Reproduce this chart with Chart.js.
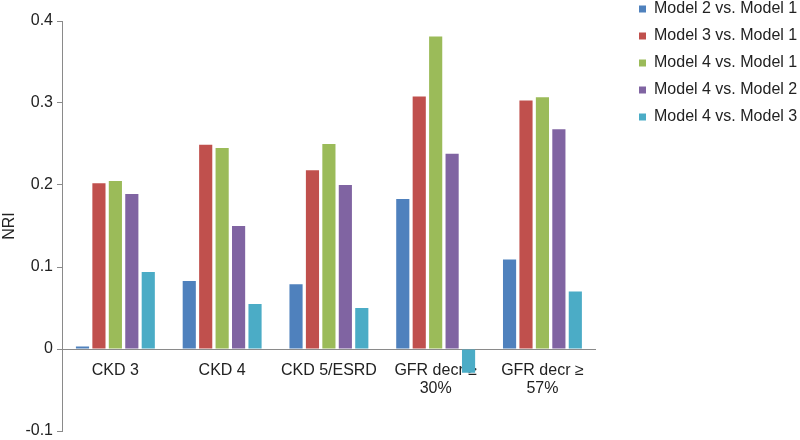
<!DOCTYPE html>
<html>
<head>
<meta charset="utf-8">
<script src="https://cdn.jsdelivr.net/npm/chart.js@4/dist/chart.umd.min.js"></script>
<style>
  body { margin: 0; background: #fff; }
  #wrap { width: 800px; height: 440px; }
</style>
</head>
<body>
<div id="wrap"><canvas id="chart"></canvas></div>
<script>
const categories = ['CKD 3', 'CKD 4', 'CKD 5/ESRD', ['GFR decr \u2265', '30%'], ['GFR decr \u2265', '57%']];
const seriesNames = ['Model 2 vs. Model 1', 'Model 3 vs. Model 1', 'Model 4 vs. Model 1', 'Model 4 vs. Model 2', 'Model 4 vs. Model 3'];
const model2vs1 = [0.003, 0.083, 0.079, 0.183, 0.109];
const model3vs1 = [0.202, 0.249, 0.218, 0.308, 0.303];
const model4vs1 = [0.205, 0.245, 0.250, 0.381, 0.307];
const model4vs2 = [0.189, 0.150, 0.200, 0.238, 0.268];
const model4vs3 = [0.094, 0.055, 0.050, -0.029, 0.070];
const seriesColors = ['#4F81BD', '#C0504D', '#9BBB59', '#8064A2', '#4BACC6'];

const allValues = [model2vs1, model3vs1, model4vs1, model4vs2, model4vs3];

Chart.defaults.font.family = '"Liberation Sans", Arial, sans-serif';
Chart.defaults.color = '#222';

const datasets = allValues.map((vals, i) => ({
    label: seriesNames[i],
    data: vals,
    backgroundColor: seriesColors[i],
    borderWidth: 0,
    categoryPercentage: 0.77,
    barPercentage: 0.8
}));

// move the legend block to where the reference puts it (top right corner)
const legendSpot = {
    id: 'legendSpot',
    afterLayout(chart) {
        const lg = chart.legend;
        const dx = 628 - lg.left;
        const dy = -10 - lg.top;
        lg.left += dx; lg.right += dx;
        lg.top += dy; lg.bottom += dy;
    }
};

new Chart(document.getElementById('chart'), {
    type: 'bar',
    data: { labels: categories, datasets: datasets },
    options: {
        responsive: true,
        maintainAspectRatio: false,
        animation: false,
        layout: { padding: { top: 21, bottom: 9, left: 0, right: 25 } },
        plugins: {
            tooltip: { enabled: false },
            legend: {
                position: 'right',
                align: 'start',
                labels: {
                    boxWidth: 7,
                    boxHeight: 7,
                    padding: 11,
                    font: { size: 16 },
                    color: '#222'
                }
            }
        },
        scales: {
            x: {
                position: { y: 0 },
                grid: { display: false },
                border: { display: true, color: '#8a8a8a', width: 1 },
                ticks: { font: { size: 16, lineHeight: 1.15 }, color: '#222', maxRotation: 0, autoSkip: false, padding: 4 }
            },
            y: {
                min: -0.1,
                max: 0.4,
                afterFit: scale => {
                    scale.width = 62;
                    scale.paddingTop = 0;
                    scale.paddingBottom = 0;
                },
                ticks: { stepSize: 0.1, font: { size: 16 }, color: '#222', padding: 4 },
                grid: { drawOnChartArea: false, drawTicks: true, tickLength: 5, color: '#8a8a8a' },
                border: { display: true, color: '#8a8a8a', width: 1 },
                title: { display: true, text: 'NRI', font: { size: 16 }, color: '#222', padding: 0 }
            }
        }
    },
    plugins: [legendSpot]
});
</script>
</body>
</html>
